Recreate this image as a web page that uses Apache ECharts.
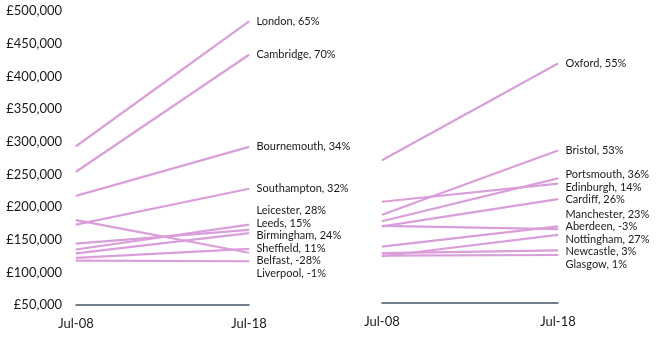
<!DOCTYPE html>
<html><head><meta charset="utf-8">
<script src="https://cdn.jsdelivr.net/npm/echarts@6/dist/echarts.min.js"></script>
<style>
html,body{margin:0;padding:0;background:#fff;width:661px;height:345px;overflow:hidden;}
.c{position:absolute;left:0;top:0;width:661px;height:345px;}
</style></head><body>
<div id="l" class="c"></div><div id="r" class="c"></div>
<script>
const periods = ['Jul-08', 'Jul-18'];
const yTicks = { min: 50000, max: 500000, interval: 50000 };

const leftCities = ['London', 'Cambridge', 'Bournemouth', 'Southampton', 'Leicester', 'Leeds', 'Birmingham', 'Sheffield', 'Belfast', 'Liverpool'];
const left2008 = [293000, 254000, 217000, 173000, 135000, 144000, 129000, 122000, 180000, 118000];
const left2018 = [484000, 433000, 292000, 228000, 173000, 165000, 160000, 136000, 130000, 117000];
const leftPct = [65, 70, 34, 32, 28, 15, 24, 11, -28, -1];

const rightCities = ['Oxford', 'Bristol', 'Portsmouth', 'Edinburgh', 'Cardiff', 'Manchester', 'Aberdeen', 'Nottingham', 'Newcastle', 'Glasgow'];
const right2008 = [270000, 186000, 176000, 206000, 168000, 137000, 169000, 122000, 127000, 123000];
const right2018 = [419000, 285000, 242000, 234000, 210000, 168000, 164000, 155000, 131000, 124000];
const rightPct = [55, 53, 36, 14, 26, 23, -3, 27, 3, 1];

const FONT = 'Lato';
const TEXT = '#1a1a1a';
const LINE = '#DA9EDA';
const AXIS = '#44546A';
const LABEL_GAP = 12.5;

function buildSeries(cities, a, b, pct, offsets) {
  return cities.map((c, i) => ({
    type: 'line',
    name: c,
    data: [
      { value: a[i], label: { show: false } },
      { value: b[i], label: { show: true, offset: [0, offsets ? offsets[i] : 0] } }
    ],
    symbol: 'circle',
    symbolSize: 1,
    showSymbol: true,
    lineStyle: { color: LINE, width: 2.2 },
    itemStyle: { color: LINE },
    silent: true,
    label: {
      show: false,
      position: 'right',
      distance: 7,
      fontFamily: FONT,
      fontSize: 11,
      lineHeight: 12,
      color: TEXT,
      formatter: () => c + ', ' + pct[i] + '%'
    }
  }));
}

function buildOption(grid, showY, cities, a, b, pct, offsets) {
  return {
    animation: false,
    backgroundColor: 'transparent',
    grid: grid,
    xAxis: {
      type: 'category',
      data: periods,
      boundaryGap: false,
      axisLine: { show: true, lineStyle: { color: AXIS, width: 1.5 } },
      axisTick: { show: false },
      axisLabel: { fontFamily: FONT, fontSize: 13, color: TEXT, margin: 12 },
      splitLine: { show: false }
    },
    yAxis: {
      type: 'value',
      min: yTicks.min, max: yTicks.max, interval: yTicks.interval,
      axisLine: { show: false },
      axisTick: { show: false },
      splitLine: { show: false },
      axisLabel: {
        show: showY,
        fontFamily: FONT, fontSize: 13, color: TEXT, margin: 14,
        formatter: v => '£' + v.toLocaleString('en-GB')
      }
    },
    series: buildSeries(cities, a, b, pct, offsets)
  };
}

// Spread overlapping end labels into centred clusters (like the original's manual labels).
function spread(ys, gap) {
  const idx = ys.map((y, i) => i).sort((p, q) => ys[p] - ys[q]);
  let clusters = idx.map(i => ({ members: [i], sum: ys[i] }));
  let changed = true;
  const place = cl => {
    const n = cl.members.length;
    const mean = cl.sum / n;
    cl.top = mean - (n - 1) * gap / 2;
    cl.bottom = cl.top + (n - 1) * gap;
  };
  clusters.forEach(place);
  while (changed) {
    changed = false;
    for (let k = 0; k < clusters.length - 1; k++) {
      const A = clusters[k], B = clusters[k + 1];
      if (B.top - A.bottom < gap - 0.01) {
        const M = { members: A.members.concat(B.members), sum: A.sum + B.sum };
        place(M);
        clusters.splice(k, 2, M);
        changed = true;
        break;
      }
    }
  }
  const out = new Array(ys.length);
  clusters.forEach(cl => cl.members.forEach((m, j) => { out[m] = cl.top + j * gap - ys[m]; }));
  return out;
}

function draw(el, grid, showY, cities, a, b, pct) {
  const chart = echarts.init(el, null, { renderer: 'canvas' });
  chart.setOption(buildOption(grid, showY, cities, a, b, pct, null));
  const ys = cities.map((c, i) => chart.convertToPixel({ seriesIndex: i }, [1, b[i]])[1]);
  const offsets = spread(ys, LABEL_GAP);
  chart.setOption(buildOption(grid, showY, cities, a, b, pct, offsets), true);
  return chart;
}

draw(document.getElementById('l'), { left: 76, right: 412, top: 11, bottom: 40 }, true, leftCities, left2008, left2018, leftPct);
draw(document.getElementById('r'), { left: 382, right: 103, top: 11, bottom: 42 }, false, rightCities, right2008, right2018, rightPct);
</script>
</body></html>
